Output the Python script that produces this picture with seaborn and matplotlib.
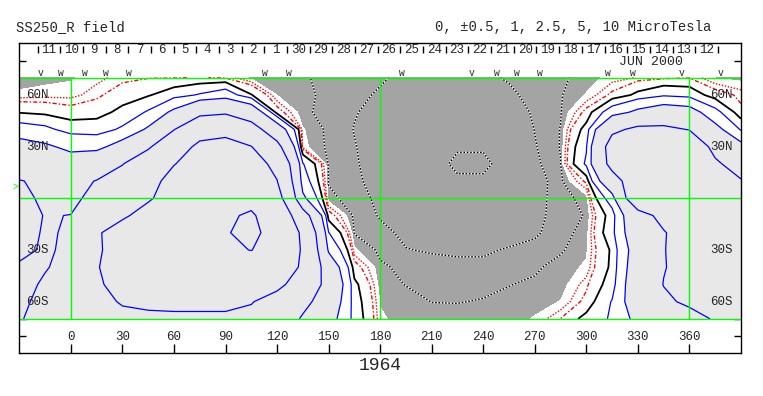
import numpy as np
import matplotlib
matplotlib.use("Agg")
import matplotlib.pyplot as plt
import seaborn as sns

# source surface field (microTesla) on a 15 deg x 10 deg grid
lons = np.arange(-30, 391, 15)
lats = np.arange(-70, 71, 10)

lat70 = [-0.3, -0.2, -0.08, 0.35, 0.7, 0.95, 0.95, 1.05, 0.9, -0.15, -0.3, -0.45, -0.62, -0.8, -0.95,
         -1.1, -1.2, -1.2, -1.1, -0.95, -0.8, -0.6, -0.3, 0.25, 0.55, 0.8, 0.95, -0.02, -0.2]
lat60 = [0.13, 0.26, 0.31, 0.75, 1.72, 2.3, 3.75, 5.3, 7.1, 2.6, -0.02, -0.35, -0.65, -0.9, -1.05,
         -1.2, -1.35, -1.4, -1.3, -1.1, -0.84, -0.55, 0.05, 1.2, 3.0, 4.5, 3.9, 1.5, 0.8]
lat50 = [2.35, 2.0, 1.44, 1.82, 3.0, 5.35, 11.4, 20.8, 22.8, 16.2, 1.5, -0.4, -0.66, -0.97, -1.15,
         -1.35, -1.5, -1.6, -1.55, -1.35, -0.91, -0.55, 1.3, 7.1, 11.5, 14.4, 13.0, 6.1, 1.2]
lat40 = [6.7, 5.8, 3.8, 3.6, 5.5, 10.9, 24.5, 39.8, 43.0, 32.0, 15.0, 0.05, -0.64, -1.02, -1.25,
         -1.5, -1.75, -2.0, -2.0, -1.75, -0.98, -0.48, 3.3, 22.0, 28.0, 28.0, 24.5, 12.2, 4.6]
lat30 = [13.0, 11.0, 8.5, 8.1, 13.0, 23.0, 37.8, 55.0, 58.0, 50.5, 29.7, 0.18, -0.63, -0.97, -1.3,
         -1.6, -1.9, -2.4, -2.4, -2.0, -1.05, -0.47, 4.7, 32.0, 40.0, 42.0, 36.0, 21.0, 12.0]
lat20 = [19.0, 17.0, 13.3, 16.5, 24.5, 35.0, 49.0, 62.0, 66.0, 60.0, 44.0, 5.2, -0.6, -0.93, -1.3,
         -1.7, -2.1, -2.7, -2.7, -2.1, -1.15, -0.52, 5.5, 30.0, 40.0, 44.0, 40.0, 27.0, 19.3]
lat10 = [25.5, 23.0, 21.0, 25.5, 31.0, 40.0, 60.0, 72.0, 78.0, 72.0, 50.5, 7.0, -0.55, -0.85, -1.3,
         -1.65, -2.0, -2.35, -2.35, -2.0, -1.35, -0.65, 1.2, 18.0, 36.0, 42.0, 42.0, 35.0, 25.8]
lat0 = [28.0, 23.0, 22.0, 29.0, 36.0, 47.0, 62.0, 75.0, 82.0, 85.0, 60.0, 11.5, -0.35, -0.74, -1.15,
        -1.5, -1.8, -1.95, -1.95, -1.8, -1.25, -0.72, -0.3, 7.0, 40.0, 44.0, 46.0, 44.0, 38.0]
latm10 = [30.0, 24.5, 25.2, 35.0, 46.0, 60.0, 72.0, 85.0, 93.0, 106.0, 72.0, 33.0, 1.5, -0.65, -1.05,
          -1.4, -1.5, -1.55, -1.55, -1.5, -1.15, -0.8, -0.45, 3.5, 18.0, 30.0, 40.0, 44.0, 40.0]
latm20 = [29.0, 24.0, 26.0, 47.0, 62.0, 72.0, 80.0, 88.0, 97.0, 112.0, 80.0, 45.0, 5.1, -0.55, -0.85,
          -1.12, -1.25, -1.3, -1.3, -1.25, -1.08, -0.75, -0.25, 4.0, 16.0, 24.0, 33.0, 38.0, 36.0]
latm30 = [27.0, 24.0, 26.5, 47.0, 60.0, 68.0, 74.0, 82.0, 92.0, 101.0, 78.0, 47.0, 9.0, 0.1, -0.64,
          -0.98, -1.05, -1.08, -1.08, -0.95, -0.85, -0.58, -0.1, 2.8, 14.0, 24.5, 31.0, 34.0, 33.0]
latm40 = [24.0, 24.0, 30.0, 49.0, 58.0, 62.0, 64.0, 67.0, 70.0, 70.0, 64.0, 47.0, 16.0, 1.5, -0.4,
          -0.65, -0.82, -0.88, -0.88, -0.82, -0.6, -0.28, 0.1, 2.9, 15.0, 24.5, 29.0, 31.0, 30.0]
latm50 = [20.0, 27.0, 33.0, 48.0, 55.0, 57.0, 58.0, 59.0, 59.0, 58.0, 55.0, 40.0, 19.0, 3.0, -0.3,
          -0.52, -0.6, -0.62, -0.62, -0.52, -0.4, -0.3, 0.8, 3.5, 16.0, 25.3, 28.0, 29.0, 28.0]
latm60 = [22.0, 29.0, 35.0, 43.0, 52.0, 54.0, 54.0, 54.0, 54.0, 51.0, 42.0, 30.0, 16.0, 3.5, -0.05,
          -0.3, -0.51, -0.52, -0.47, -0.35, -0.2, 0.02, 1.3, 5.2, 15.0, 23.0, 27.0, 27.0, 26.0]
latm70 = [24.0, 30.0, 35.0, 40.0, 44.0, 46.0, 47.0, 47.0, 47.0, 45.0, 38.0, 23.0, 13.0, 3.8, 0.1,
          -0.25, -0.3, -0.32, -0.32, -0.25, 0.05, 1.02, 3.2, 5.4, 12.0, 16.0, 21.0, 26.0, 27.0]

neg_levels = [-2.5, -1.0, -0.5]
blue_levels = [5, 10, 25, 50, 100]

day_labels = ["11", "10", "9", "8", "7", "6", "5", "4", "3", "2", "1", "30", "29", "28", "27",
              "26", "25", "24", "23", "22", "21", "20", "19", "18", "17", "16", "15", "14", "13", "12"]
event_lon = [-17.6, -6, 8, 20.2, 33.6, 112.7, 126.6, 192.4, 233.1, 248.2, 259.3, 273.2,
             312.7, 327.3, 355.2, 378]
event_sym = ["v", "w", "w", "w", "w", "w", "w", "w", "v", "w", "w", "w", "w", "w", "v", "v"]

field = np.array([latm70, latm60, latm50, latm40, latm30, latm20, latm10, lat0,
                  lat10, lat20, lat30, lat40, lat50, lat60, lat70])

sns.set_style("white")
plt.rcParams["font.family"] = ["Liberation Mono", "DejaVu Sans"]

fig = plt.figure(figsize=(7.63, 3.96), dpi=100)
ax = fig.add_axes([19.3 / 763, 1 - 353.3 / 396, 721.7 / 763, 310 / 396])

ax.contourf(lons, lats, field, levels=[-10, 0, 10, 1000],
            colors=["#a4a4a4", "white", "#e8e8e8"])
ax.contour(lons, lats, field, levels=neg_levels, colors="white",
           linewidths=1.0, linestyles="solid")
ax.contour(lons, lats, field, levels=neg_levels, colors="black",
           linewidths=1.0, linestyles=[(0, (1.2, 1.2))] * 3)
ax.contour(lons, lats, field, levels=[0.5], colors="red",
           linewidths=1.0, linestyles=[(0, (1, 1.2))])
ax.contour(lons, lats, field, levels=[1.0], colors="red",
           linewidths=1.0, linestyles=[(0, (3, 1.5, 1, 1.5))])
ax.contour(lons, lats, field, levels=[2.5], colors="black", linewidths=1.3)
ax.contour(lons, lats, field, levels=blue_levels, colors="#0000ff", linewidths=0.9)

# green reference lines
ax.hlines([70, 0, -70], -30, 390, color="#00ff00", lw=1.0, zorder=3)
ax.vlines([0, 180, 360], -70, 70, color="#00ff00", lw=1.0, zorder=3)

ax.set_xlim(-30, 390)
ax.set_ylim(-90, 90)
ax.set_xticks(np.arange(0, 361, 30))
ax.set_xticklabels([])
ax.set_yticks(np.arange(-80, 81, 10))
ax.set_yticklabels([])
ax.tick_params(axis="x", direction="in", length=6.5, width=1, bottom=True, top=False, color="black")
ax.tick_params(axis="y", direction="in", length=5, width=1, left=True, right=True, color="black")
for s in ax.spines.values():
    s.set_color("black")
    s.set_linewidth(1.0)
    s.set_zorder(5)

for lon in range(0, 361, 30):
    ax.text(lon, -80.5, str(lon), ha="center", va="center", fontsize=9)
for lat, lab in [(60, "60N"), (30, "30N"), (-30, "30S"), (-60, "60S")]:
    ax.text(-25.8, lat, lab, ha="left", va="center", fontsize=9, zorder=4)
    ax.text(385.4, lat, lab, ha="right", va="center", fontsize=9, zorder=4)

# day scale along the top
day_step = 360 / 27.2753
day_start = -19.4
for k, d in enumerate(day_labels):
    ax.text(day_start + day_step * (k + 0.5), 86.1, d, ha="center", va="center", fontsize=9)
ax.vlines(day_start + day_step * np.arange(len(day_labels) + 1), 84.4, 88.4, color="black", lw=1)
ax.text(337.8, 78.9, "JUN 2000", ha="center", va="center", fontsize=9.5)

for lon, sym in zip(event_lon, event_sym):
    ax.text(lon, 72.8, sym, ha="center", va="center", fontsize=7)

ax.text(-30.3, 6.5, ">", color="#00ff00", ha="right", va="center", fontsize=7, clip_on=False)

fig.text(16 / 763, 1 - 27.5 / 396, "SS250_R field", ha="left", va="center", fontsize=10)
fig.text(711 / 763, 1 - 27.5 / 396, "0, \u00b10.5, 1, 2.5, 5, 10 MicroTesla",
         ha="right", va="center", fontsize=10)
fig.text(380 / 763, 1 - 365.5 / 396, "1964", ha="center", va="center", fontsize=13)

fig.savefig("out.png", dpi=100)
